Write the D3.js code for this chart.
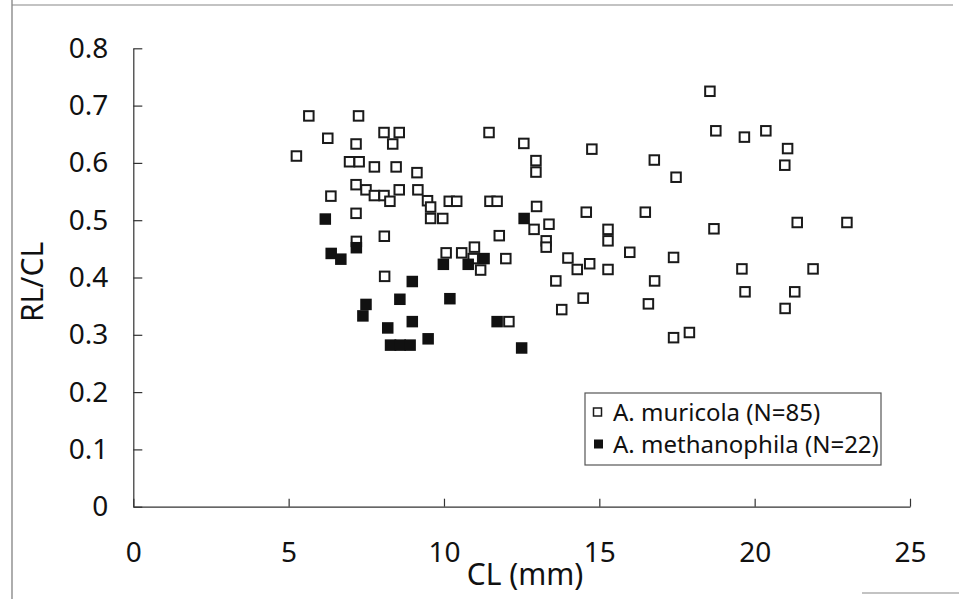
<!DOCTYPE html>
<html>
<head>
<meta charset="utf-8">
<script src="https://cdn.jsdelivr.net/npm/d3@7"></script>
<style>
  body { margin: 0; background: #fff; }
  text { font-family: "Noto Sans", "DejaVu Sans", sans-serif; fill: #111; }
</style>
</head>
<body>
<div id="my_dataviz"></div>
<script>
// tick labels
var xTicks = [0, 5, 10, 15, 20, 25];
var yTicks = [0, 0.1, 0.2, 0.3, 0.4, 0.5, 0.6, 0.7, 0.8];

// A. muricola (open squares)
var muricolaCL = [5.65, 7.25, 6.26, 8.07, 8.56, 7.17, 8.35, 5.25, 6.96, 7.27,
  7.76, 8.46, 7.17, 7.49, 7.76, 8.07, 8.56, 8.26, 6.36, 7.17,
  8.08, 7.18, 8.09, 9.13, 9.16, 9.47, 9.57, 9.57, 9.96, 10.17,
  10.41, 11.48, 11.71, 11.45, 12.57, 14.76, 12.96, 12.96, 16.77, 17.47,
  12.98, 12.90, 13.38, 13.29, 13.29, 14.58, 16.48, 15.28, 15.28, 15.98,
  17.39, 11.78, 11.99, 13.99, 14.29, 14.69, 15.28, 13.60, 16.78, 14.48,
  13.79, 16.58, 17.39, 17.90, 10.07, 10.57, 10.98, 10.94, 11.18, 12.09,
  18.56, 18.75, 19.67, 20.36, 21.06, 20.97, 18.69, 21.37, 22.97, 19.59,
  21.88, 19.69, 21.29, 20.98];
var muricolaRatio = [0.682, 0.682, 0.643, 0.653, 0.653, 0.633, 0.633, 0.612, 0.602, 0.602,
  0.593, 0.593, 0.562, 0.553, 0.543, 0.543, 0.553, 0.533, 0.542, 0.512,
  0.472, 0.463, 0.402, 0.583, 0.553, 0.534, 0.523, 0.503, 0.503, 0.533,
  0.533, 0.533, 0.533, 0.653, 0.634, 0.624, 0.604, 0.584, 0.605, 0.575,
  0.524, 0.484, 0.493, 0.464, 0.453, 0.514, 0.514, 0.484, 0.464, 0.444,
  0.435, 0.473, 0.433, 0.434, 0.414, 0.424, 0.414, 0.394, 0.394, 0.364,
  0.344, 0.354, 0.295, 0.304, 0.443, 0.443, 0.453, 0.433, 0.413, 0.323,
  0.725, 0.656, 0.645, 0.656, 0.625, 0.596, 0.485, 0.496, 0.496, 0.415,
  0.415, 0.375, 0.375, 0.346];

// A. methanophila (filled squares)
var methanoCL = [6.18, 7.18, 6.37, 6.68, 8.98, 8.58, 7.49, 7.39, 8.19, 8.98,
  8.28, 8.59, 8.91, 9.49, 10.19, 9.98, 10.78, 11.29, 12.58, 11.71, 12.50];
var methanoRatio = [0.502, 0.452, 0.442, 0.432, 0.393, 0.362, 0.353, 0.333, 0.312, 0.323,
  0.282, 0.282, 0.282, 0.293, 0.363, 0.423, 0.423, 0.433, 0.503, 0.323, 0.277];

var legendLabels = ["A. muricola (N=85)", "A. methanophila (N=22)"];

var W = 959, H = 599;
var svg = d3.select("#my_dataviz")
  .append("svg")
    .attr("width", W)
    .attr("height", H);

// frame of the scanned figure
svg.append("line").attr("x1", 12).attr("x2", 12).attr("y1", 0).attr("y2", H)
  .attr("stroke", "#777").attr("stroke-width", 1.2);
svg.append("line").attr("x1", 12).attr("x2", 953).attr("y1", 5).attr("y2", 5)
  .attr("stroke", "#888").attr("stroke-width", 1.2);
svg.append("line").attr("x1", 862).attr("x2", W).attr("y1", 593).attr("y2", 593)
  .attr("stroke", "#888").attr("stroke-width", 1.2);

// scales
var x = d3.scaleLinear().domain([0, 25]).range([133.3, 910]);
var y = d3.scaleLinear().domain([0, 0.8]).range([506.7, 48.3]);

// X axis
var xAxis = svg.append("g")
  .attr("transform", "translate(0," + y(0) + ")")
  .call(d3.axisBottom(x).tickValues(xTicks).tickSizeInner(-8).tickSizeOuter(0).tickPadding(35));
xAxis.selectAll("text")
  .attr("font-size", 28)
  .attr("font-family", "Noto Sans");

// Y axis
var yAxis = svg.append("g")
  .attr("transform", "translate(" + x(0) + ",0)")
  .call(d3.axisLeft(y).tickValues(yTicks).tickSizeInner(-9).tickSizeOuter(0).tickPadding(25)
    .tickFormat(function(d) { return d === 0 ? "0" : d.toFixed(1); }));
yAxis.selectAll("text")
  .attr("font-size", 28)
  .attr("font-family", "Noto Sans");

svg.selectAll(".domain, .tick line").attr("stroke", "#333").attr("stroke-width", 1.2);

// axis titles
svg.append("text")
  .attr("x", 525)
  .attr("y", 585)
  .attr("text-anchor", "middle")
  .attr("font-size", 30)
  .text("CL (mm)");

svg.append("text")
  .attr("transform", "translate(43,282)rotate(-90)")
  .attr("text-anchor", "middle")
  .attr("font-size", 30)
  .text("RL/CL");

// points
var muricola = muricolaCL.map(function(d, i) { return {cl: d, r: muricolaRatio[i]}; });
var methano = methanoCL.map(function(d, i) { return {cl: d, r: methanoRatio[i]}; });

svg.append("g").selectAll("rect")
  .data(muricola)
  .enter()
  .append("rect")
    .attr("x", function(d) { return x(d.cl) - 4.75; })
    .attr("y", function(d) { return y(d.r) - 4.75; })
    .attr("width", 9.5)
    .attr("height", 9.5)
    .attr("fill", "#fff")
    .attr("stroke", "#1a1a1a")
    .attr("stroke-width", 2);

svg.append("g").selectAll("rect")
  .data(methano)
  .enter()
  .append("rect")
    .attr("x", function(d) { return x(d.cl) - 5.75; })
    .attr("y", function(d) { return y(d.r) - 5.75; })
    .attr("width", 11.5)
    .attr("height", 11.5)
    .attr("fill", "#111");

// legend
var lg = svg.append("g");
lg.append("rect")
  .attr("x", 585).attr("y", 393)
  .attr("width", 296).attr("height", 72)
  .attr("fill", "#fff")
  .attr("stroke", "#555")
  .attr("stroke-width", 1.2);

lg.append("rect")
  .attr("x", 593.5).attr("y", 408)
  .attr("width", 8).attr("height", 8)
  .attr("fill", "#fff").attr("stroke", "#1a1a1a").attr("stroke-width", 1.5);
lg.append("rect")
  .attr("x", 594).attr("y", 439.5)
  .attr("width", 9).attr("height", 9)
  .attr("fill", "#111");

lg.selectAll("text.lbl")
  .data(legendLabels)
  .enter()
  .append("text")
    .attr("class", "lbl")
    .attr("x", 613)
    .attr("y", function(d, i) { return 421 + i * 32; })
    .attr("font-size", 24)
    .text(function(d) { return d; });
</script>
</body>
</html>
